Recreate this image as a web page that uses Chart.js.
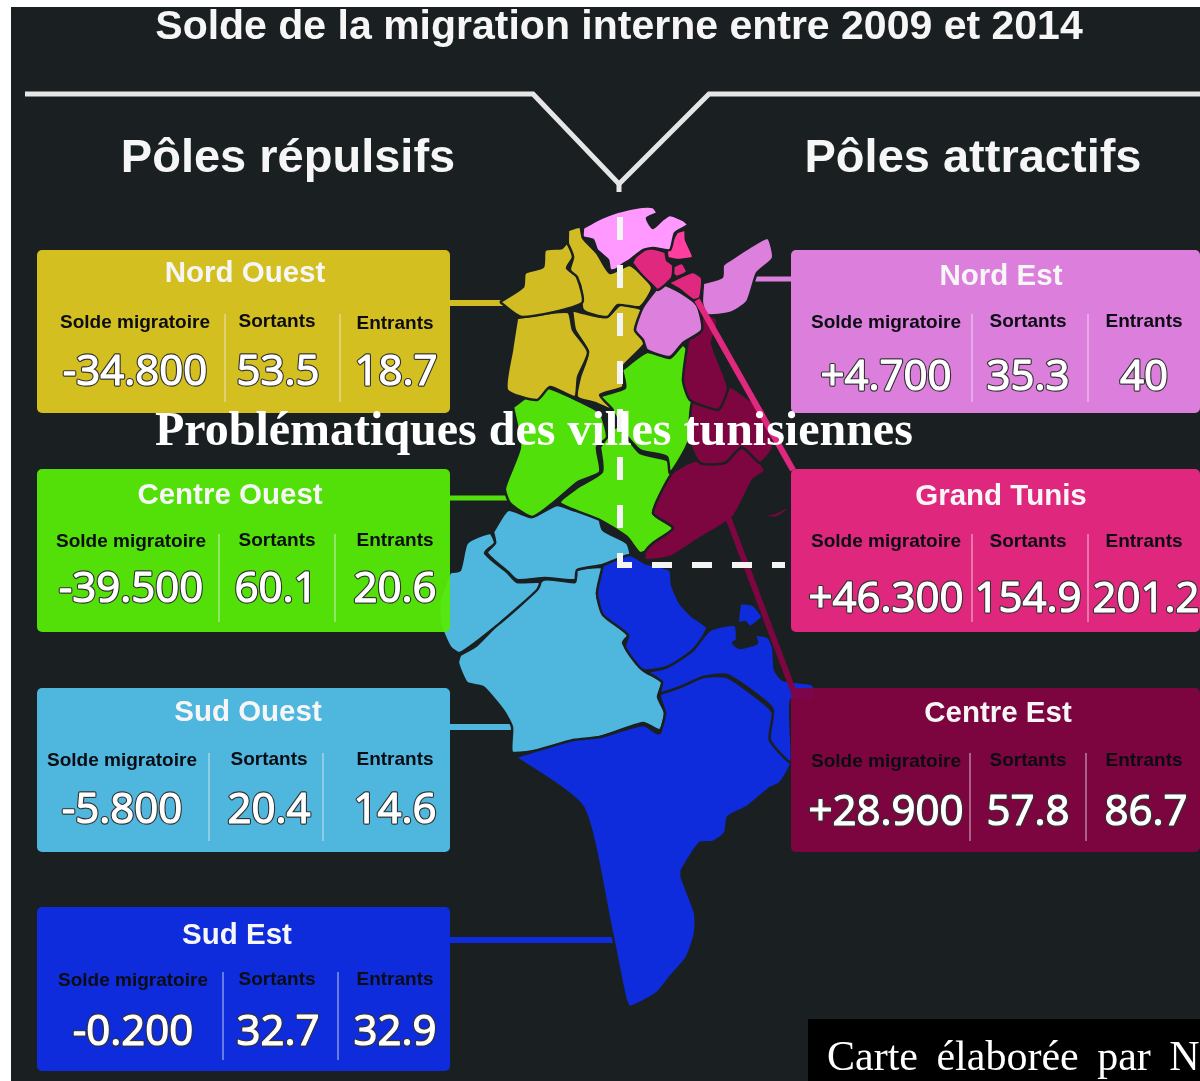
<!DOCTYPE html>
<html lang="fr">
<head>
<meta charset="utf-8">
<title>Solde de la migration interne entre 2009 et 2014</title>
<script src="https://cdn.jsdelivr.net/npm/chart.js@4/dist/chart.umd.min.js"></script>
<style>
html, body { margin: 0; padding: 0; background: #fff; overflow: hidden; }
canvas { display: block; }
</style>
</head>
<body>
<canvas id="map" width="1200" height="1081"></canvas>
<script>
// panel values (thousands of people, solde as printed)
const regions = ["Nord Ouest", "Centre Ouest", "Sud Ouest", "Sud Est", "Nord Est", "Grand Tunis", "Centre Est"];
const solde = ["-34.800", "-39.500", "-5.800", "-0.200", "+4.700", "+46.300", "+28.900"];
const sortants = ["53.5", "60.1", "20.4", "32.7", "35.3", "154.9", "57.8"];
const entrants = ["18.7", "20.6", "14.6", "32.9", "40", "201.2", "86.7"];
const colLabels = ["Solde migratoire", "Sortants", "Entrants"];

// governorate outlines in picture units
const bizerte = [[583,228],[597,220],[617,212],[640,207],[653,207],[657,213],[647,218],[653,228],[662,220],[670,215],[683,220],[688,225],[675,233],[670,250],[653,248],[643,250],[630,260],[622,265],[615,270],[610,270],[608,260],[597,250],[593,240],[583,237]];
const ariana = [[677,232],[685,230],[686,240],[693,257],[680,260],[668,258],[667,250]];
const manouba = [[632,263],[635,257],[648,248],[665,252],[667,260],[673,265],[672,278],[658,290],[652,285],[640,273]];
const tunis = [[670,268],[682,263],[687,272],[677,277],[672,273]];
const benArous = [[668,283],[680,277],[693,272],[702,278],[700,298],[693,300],[680,290]];
const nabeul = [[703,283],[722,277],[723,265],[733,258],[750,247],[768,238],[773,258],[757,273],[747,302],[730,313],[707,315],[702,303]];
const zaghouan = [[658,287],[665,285],[680,292],[697,305],[702,330],[683,343],[670,357],[647,350],[643,340],[635,330],[643,307]];
const jendouba = [[500,302],[523,287],[525,273],[543,267],[545,250],[562,248],[567,243],[573,257],[567,268],[577,277],[582,303],[522,317]];
const beja = [[568,230],[580,227],[583,238],[597,253],[610,273],[630,265],[652,287],[640,307],[618,305],[607,317],[583,310],[580,285],[570,270],[573,257],[568,245]];
const kef = [[517,318],[568,312],[573,330],[588,352],[578,377],[575,397],[550,387],[537,400],[507,390],[512,350]];
const siliana = [[572,310],[583,313],[607,317],[620,305],[642,310],[635,330],[645,343],[622,368],[623,387],[600,395],[613,410],[595,403],[577,397],[580,377],[588,352],[575,330]];
const kairouan = [[622,370],[647,352],[670,358],[683,345],[692,358],[683,380],[693,400],[688,443],[670,473],[667,457],[640,450],[622,430],[613,412],[600,397],[625,388]];
const kasserine = [[513,407],[543,387],[577,400],[600,413],[607,437],[597,447],[600,472],[578,482],[553,503],[532,517],[510,503],[505,488],[520,447]];
const sidiBouzid = [[600,447],[617,427],[640,453],[667,460],[672,473],[653,513],[673,528],[653,547],[640,553],[627,537],[600,520],[560,503],[578,487],[602,472]];
const sousse = [[688,340],[700,332],[703,315],[716,318],[717,327],[712,343],[728,387],[723,403],[718,410],[690,400],[683,380]];
const monastir = [[718,410],[730,387],[750,400],[765,410],[773,447],[760,463],[742,447],[725,463],[700,463],[690,443],[693,400]];
const sfax = [[688,463],[742,448],[765,470],[753,480],[733,517],[697,540],[670,557],[645,560],[645,552],[653,543],[673,528],[653,513],[672,473]];
const kerkennah = [[762,515],[775,518],[788,510],[785,508],[775,513]];
const gafsa = [[493,532],[508,510],[532,517],[557,505],[573,510],[597,512],[603,530],[627,543],[630,557],[603,565],[577,570],[575,580],[545,578],[517,580],[508,572],[487,553],[495,543]];
const tozeur = [[450,572],[460,570],[467,543],[490,533],[495,543],[485,553],[508,573],[517,582],[540,582],[537,590],[500,623],[460,653],[450,647],[440,623],[440,600]];
const kebili = [[460,655],[477,645],[543,580],[575,582],[577,570],[603,568],[597,593],[603,613],[628,635],[623,643],[643,670],[662,682],[658,697],[665,713],[660,730],[643,723],[600,737],[513,753],[512,727],[503,710],[483,687],[467,683],[458,663]];
const gabes = [[603,565],[630,555],[645,563],[670,570],[672,585],[680,603],[692,616],[707,628],[693,650],[667,667],[643,670],[625,647],[628,635],[603,615],[597,593]];
const medenine = [[647,672],[667,667],[693,650],[710,630],[735,625],[737,640],[733,643],[740,648],[757,643],[755,635],[768,637],[773,647],[775,670],[783,680],[813,685],[813,700],[791,700],[791,762],[770,740],[773,710],[760,697],[727,675],[703,677],[680,687],[660,693],[662,682]];
const djerba = [[740,603],[753,605],[762,617],[750,627],[745,622],[738,623]];
const tataouine = [[515,757],[573,740],[600,737],[643,725],[657,733],[660,733],[665,713],[660,695],[680,687],[703,677],[727,677],[760,700],[773,713],[770,740],[791,762],[780,783],[770,788],[747,807],[728,817],[725,833],[713,842],[700,843],[682,870],[682,878],[695,913],[695,933],[687,957],[670,977],[657,993],[630,1007],[625,997],[610,923],[583,807]];

const chevron = [[25,94],[533,94],[619,184],[709,94],[1200,94]];
const chevronStub = [[619,182],[619,192]];
const underLeaders = [
  { pts: [[450,303],[512,303]], color: "#d2bc24", w: 6 },
  { pts: [[450,498],[512,498]], color: "#52e00a", w: 5 },
  { pts: [[450,727],[515,727]], color: "#4fb6dd", w: 6 },
  { pts: [[450,940],[613,940]], color: "#0e2cdc", w: 6 },
  { pts: [[745,279],[791,279]], color: "#dd80dd", w: 5 }
];
const overLeaders = [
  { pts: [[697,300],[793,470]], color: "#e0287f", w: 6 },
  { pts: [[728,517],[793,690]], color: "#7d0540", w: 6 }
];

const YELLOW = "#d2bc24", GREEN = "#52e00a", SKY = "#4fb6dd", BLUE = "#0e2cdc", LILAC = "#dd80dd", PINK = "#e0287f", MAROON = "#7d0540";

const shapes = [
  [bizerte, "#ff99ff"], [ariana, "#ff3fa0"], [manouba, PINK], [tunis, PINK], [benArous, PINK],
  [nabeul, LILAC], [zaghouan, LILAC], [jendouba, YELLOW], [beja, YELLOW], [kef, YELLOW], [siliana, YELLOW],
  [sousse, MAROON], [monastir, MAROON], [sfax, MAROON], [kerkennah, MAROON],
  [kairouan, GREEN], [kasserine, GREEN], [sidiBouzid, GREEN],
  [gabes, BLUE], [medenine, BLUE], [djerba, BLUE], [tataouine, BLUE],
  [tozeur, SKY], [gafsa, SKY], [kebili, SKY]
];

const toXY = pts => pts.map(p => ({ x: p[0], y: p[1] }));
const plainLine = (pts, color, w, order) => ({ data: toXY(pts), borderColor: color, borderWidth: w, pointRadius: 0, showLine: true, fill: false, order });

const datasets = [];
underLeaders.forEach(l => datasets.push(plainLine(l.pts, l.color, l.w, 30)));
shapes.forEach(s => {
  datasets.push({
    data: toXY(s[0].concat([s[0][0]])),
    backgroundColor: s[1],
    borderColor: "#1a2022",
    borderWidth: 2.5,
    pointRadius: 0,
    showLine: true,
    tension: 0.2,
    fill: "shape",
    order: 20
  });
});
overLeaders.forEach(l => datasets.push(plainLine(l.pts, l.color, l.w, 8)));
datasets.push(plainLine(chevron, "#e6e6e6", 5, 10));
datasets.push(plainLine(chevronStub, "#e6e6e6", 5, 10));
datasets.push({ data: [{ x: 620, y: 217 }, { x: 620, y: 566 }], borderColor: "#f4f4f4", borderWidth: 6, borderDash: [23, 25], pointRadius: 0, showLine: true, fill: false, order: 5 });
datasets.push({ data: [{ x: 617, y: 565 }, { x: 785, y: 565 }], borderColor: "#f4f4f4", borderWidth: 6, borderDash: [20, 20], borderDashOffset: 5, pointRadius: 0, showLine: true, fill: false, order: 5 });

// layout of the seven cards
const cardBoxes = [[37,250,413,163],[37,469,413,163],[37,688,413,164],[37,907,413,164],[791,250,409,163],[791,469,409,163],[791,688,409,164]];
const cardFill = ["#ddc821", "#56eb07", "#52bfe8", "#0e2de6", "#e785e7", "#ea2884", "#820442"];
const nameAt = [[245,274],[230,496],[248,713],[237,936],[1001,277],[1001,497],[998,714]];
const colX = [[135,277,395],[131,277,395],[122,269,395],[133,277,395],[886,1028,1144],[886,1028,1144],[886,1028,1144]];
const labelY = [[323,322,324],[542,541,541],[761,760,760],[981,980,980],[323,322,322],[542,542,542],[762,761,761]];
const numX = [[135,278,396],[131,276,395],[122,269,395],[133,278,395],[886,1028,1144],[886,1028,1146],[886,1028,1146]];
const numY = [373,590,811,1033,378,600,813];
const divX = [[225,340],[219,335],[209,323],[223,338],[972,1088],[972,1088],[970,1086]];
const divY = [314,534,753,972,314,534,753];

const overlay = {
  id: "overlay",
  afterDatasetsDraw(chart) {
    const c = chart.ctx, X = chart.scales.x, Y = chart.scales.y;
    const px = v => X.getPixelForValue(v), py = v => Y.getPixelForValue(v);
    c.save();
    c.textBaseline = "middle";
    c.textAlign = "center";

    regions.forEach((name, i) => {
      const b = cardBoxes[i];
      c.fillStyle = cardFill[i];
      c.globalAlpha = 0.95;
      c.beginPath();
      c.roundRect(px(b[0]), py(b[1]), b[2], b[3], 5);
      c.fill();
      c.globalAlpha = 1;

      c.fillStyle = "#f6f6f6";
      c.font = "bold 29.5px 'Liberation Sans'";
      c.fillText(name, px(nameAt[i][0]), py(nameAt[i][1]));

      c.fillStyle = "#0c0c14";
      c.font = "bold 19px 'Liberation Sans'";
      colLabels.forEach((t, j) => c.fillText(t, px(colX[i][j]), py(labelY[i][j])));

      c.strokeStyle = "rgba(240,240,240,0.8)";
      c.lineWidth = 1;
      divX[i].forEach(x => {
        c.beginPath();
        c.moveTo(px(x), py(divY[i]));
        c.lineTo(px(x), py(divY[i] + 88));
        c.stroke();
      });

      // digits have a thin dark outline round a slightly heavier white body
      c.font = "42px 'Open Sans'";
      c.lineJoin = "round";
      [solde[i], sortants[i], entrants[i]].forEach((t, j) => {
        const x = px(numX[i][j]), y = py(numY[i]);
        c.strokeStyle = "#333";
        c.lineWidth = 3.5;
        c.strokeText(t, x, y);
        c.strokeStyle = "#ffffff";
        c.lineWidth = 1.2;
        c.strokeText(t, x, y);
        c.fillStyle = "#ffffff";
        c.fillText(t, x, y);
      });
    });

    // page headings
    c.fillStyle = "#f6f6f6";
    c.font = "bold 41px 'Liberation Sans'";
    c.fillText("Solde de la migration interne entre 2009 et 2014", px(619), py(28));
    c.font = "bold 47px 'Liberation Sans'";
    c.fillText("Pôles répulsifs", px(288), py(159));
    c.fillText("Pôles attractifs", px(973), py(159));

    c.textAlign = "left";
    c.fillStyle = "#ffffff";
    c.font = "bold 48px 'Liberation Serif'";
    c.fillText("Problématiques des villes tunisiennes", px(155), py(433));

    c.fillStyle = "#000000";
    c.fillRect(px(808), py(1019), 392, 62);
    c.fillStyle = "#ffffff";
    c.font = "42px 'Liberation Serif'";
    c.wordSpacing = "8px";
    c.textBaseline = "alphabetic";
    c.fillText("Carte élaborée par N", px(827), py(1070));
    c.restore();
  }
};

new Chart(document.getElementById("map"), {
  type: "scatter",
  data: { datasets },
  plugins: [{
    id: "page",
    beforeDraw(chart) {
      const c = chart.ctx;
      c.fillStyle = "#1a2022";
      c.fillRect(11, 7, 1189, 1074);
    }
  }, overlay],
  options: {
    responsive: false,
    animation: false,
    layout: { padding: 0 },
    plugins: { legend: { display: false }, title: { display: false }, tooltip: { enabled: false } },
    scales: {
      x: { type: "linear", min: 0, max: 1200, display: false },
      y: { type: "linear", min: 0, max: 1081, reverse: true, display: false }
    }
  }
});
</script>
</body>
</html>
